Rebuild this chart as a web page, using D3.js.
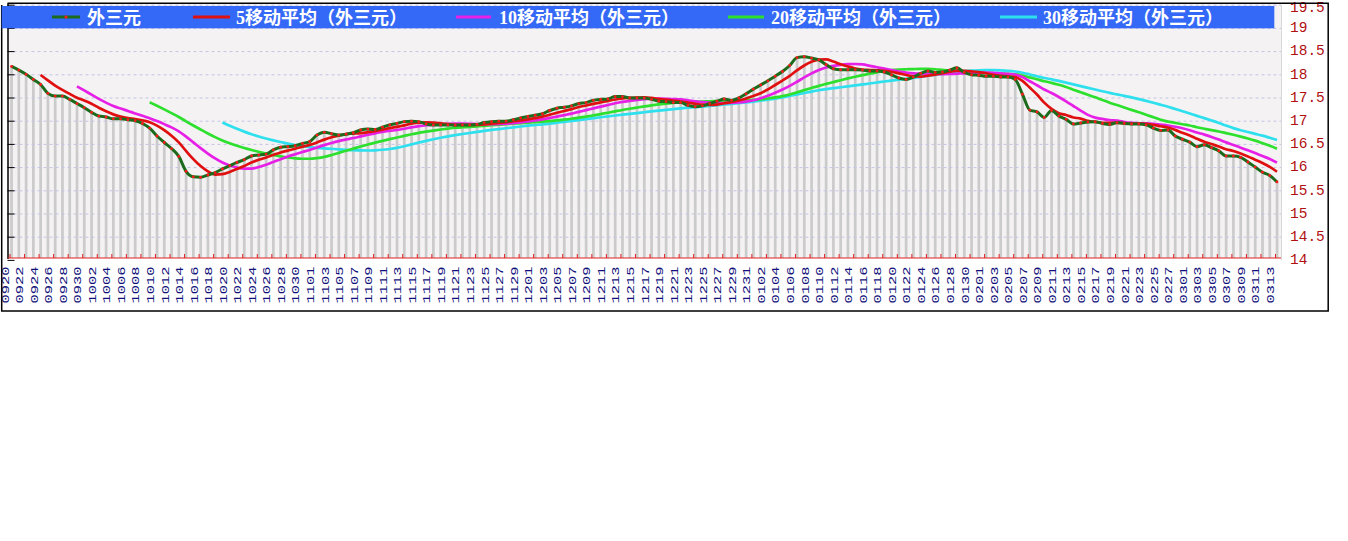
<!DOCTYPE html>
<html><head><meta charset="utf-8">
<script src="https://cdn.jsdelivr.net/npm/d3@7"></script>
<style>html,body{margin:0;padding:0;background:#fff;} svg{display:block;}</style>
</head><body>
<svg id="chart" width="1348" height="541"></svg>
<script>
// ---- data ----
const dates = [
"0920","0921","0922","0923","0924","0925","0926","0927","0928","0929","0930",
"1001","1002","1003","1004","1005","1006","1007","1008","1009","1010","1011","1012","1013","1014","1015","1016","1017","1018","1019","1020","1021","1022","1023","1024","1025","1026","1027","1028","1029","1030","1031",
"1101","1102","1103","1104","1105","1106","1107","1108","1109","1110","1111","1112","1113","1114","1115","1116","1117","1118","1119","1120","1121","1122","1123","1124","1125","1126","1127","1128","1129","1130",
"1201","1202","1203","1204","1205","1206","1207","1208","1209","1210","1211","1212","1213","1214","1215","1216","1217","1218","1219","1220","1221","1222","1223","1224","1225","1226","1227","1228","1229","1230","1231",
"0101","0102","0103","0104","0105","0106","0107","0108","0109","0110","0111","0112","0113","0114","0115","0116","0117","0118","0119","0120","0121","0122","0123","0124","0125","0126","0127","0128","0129","0130","0131",
"0201","0202","0203","0204","0205","0206","0207","0208","0209","0210","0211","0212","0213","0214","0215","0216","0217","0218","0219","0220","0221","0222","0223","0224","0225","0226","0227","0228",
"0301","0302","0303","0304","0305","0306","0307","0308","0309","0310","0311","0312","0313"];

const values = [
18.17,18.09,18.00,17.89,17.78,17.59,17.53,17.53,17.46,17.37,
17.28,17.18,17.10,17.08,17.04,17.04,17.02,17.00,16.94,16.84,
16.67,16.53,16.40,16.23,15.91,15.79,15.78,15.83,15.88,15.96,
16.03,16.10,16.16,16.24,16.26,16.28,16.37,16.43,16.44,16.46,
16.51,16.55,16.69,16.75,16.72,16.69,16.71,16.74,16.80,16.82,
16.81,16.86,16.91,16.94,16.98,16.99,16.98,16.93,16.91,16.91,
16.91,16.90,16.91,16.91,16.92,16.96,16.98,16.99,16.99,17.02,
17.06,17.09,17.12,17.15,17.22,17.27,17.29,17.32,17.37,17.39,
17.44,17.46,17.47,17.52,17.52,17.49,17.49,17.49,17.46,17.42,
17.41,17.39,17.39,17.33,17.30,17.32,17.37,17.42,17.47,17.44,
17.49,17.58,17.68,17.77,17.86,17.96,18.06,18.19,18.36,18.38,
18.35,18.31,18.21,18.12,18.10,18.10,18.10,18.09,18.07,18.07,
18.05,17.99,17.92,17.89,17.94,18.02,18.07,18.04,18.05,18.09,
18.14,18.04,17.99,17.98,17.96,17.96,17.94,17.94,17.89,17.57,
17.23,17.19,17.07,17.22,17.10,17.03,16.93,16.95,16.97,16.98,
16.94,16.92,16.96,16.94,16.93,16.93,16.91,16.84,16.79,16.80,
16.67,16.60,16.54,16.44,16.48,16.42,16.35,16.24,16.24,16.21,
16.11,16.00,15.89,15.82,15.68];

const seriesNames = ["外三元","5移动平均（外三元）","10移动平均（外三元）","20移动平均（外三元）","30移动平均（外三元）"];
const maWindows = [5, 10, 20, 30];
const yTicks = [14, 14.5, 15, 15.5, 16, 16.5, 17, 17.5, 18, 18.5, 19, 19.5];
const yTickLabels = ["14","14.5","15","15.5","16","16.5","17","17.5","18","18.5","19","19.5"];
const labelDates = dates.filter((d, i) => i % 2 === 0);

// ---- style ----
const mainColor = "#1c6a1c";
const dotColor = "#ff1a1a";
const maColors = ["#e01010", "#e620e6", "#2ee02e", "#2ee0ee"];

const svg = d3.select("#chart");
const W = 1348, H = 541;
svg.append("rect").attr("width", W).attr("height", H).attr("fill", "#ffffff");

const plot = {left: 7.5, right: 1281, top: 3.5, bottom: 258};

const x = d3.scalePoint().domain(dates).range([11.5, 1277]);
const y = d3.scaleLinear().domain([14, 19.5]).range([259.9, 4.7]);

// plot background (paper-like)
svg.append("rect").attr("x", plot.left).attr("y", plot.top)
  .attr("width", plot.right - plot.left).attr("height", plot.bottom - plot.top)
  .attr("fill", "#f4f2f2");

// bars
svg.append("g").selectAll("rect").data(values).join("rect")
  .attr("x", (d, i) => x(dates[i]) - 1.3)
  .attr("width", 2.7)
  .attr("y", d => y(d))
  .attr("height", d => plot.bottom - y(d))
  .attr("fill", "#cbcbcb");

// gridlines
const grid = svg.append("g").attr("transform", `translate(${plot.left},0)`)
  .call(d3.axisRight(y).tickValues(yTicks.filter(v => v > 14)).tickSize(plot.right - plot.left).tickFormat(""));
grid.select(".domain").remove();
grid.selectAll("line").attr("stroke", "#c4c4e6").attr("stroke-dasharray", "3,3").attr("stroke-width", 1);

// moving averages
function movingAverage(arr, n) {
  return arr.map((v, i) => i < n - 1 ? null : d3.mean(arr.slice(i - n + 1, i + 1)));
}
const lineGen = d3.line()
  .defined(d => d != null)
  .x((d, i) => x(dates[i]))
  .y(d => y(d))
  .curve(d3.curveMonotoneX);

const maSeries = maWindows.map(n => movingAverage(values, n));
for (let k = maSeries.length - 1; k >= 0; k--) {
  svg.append("path").datum(maSeries[k])
    .attr("fill", "none").attr("stroke", maColors[k]).attr("stroke-width", 2.7)
    .attr("d", lineGen);
}
// main series
svg.append("path").datum(values)
  .attr("fill", "none").attr("stroke", mainColor).attr("stroke-width", 3)
  .attr("d", lineGen);
svg.append("g").selectAll("circle").data(values).join("circle")
  .attr("cx", (d, i) => x(dates[i])).attr("cy", d => y(d)).attr("r", 1.4)
  .attr("fill", dotColor);

// left axis (ticks inward)
const la = svg.append("g").attr("transform", `translate(${plot.left},0)`)
  .call(d3.axisRight(y).tickValues(yTicks).tickSize(7).tickSizeOuter(0).tickFormat(""));
la.select(".domain").attr("stroke", "#000").attr("stroke-width", 1.5)
  .attr("d", `M0.5,${plot.top}V${plot.bottom + 1}`);
la.selectAll("line").attr("stroke", "#000");

// bottom axis (red)
svg.append("line").attr("x1", plot.left).attr("x2", plot.right)
  .attr("y1", plot.bottom).attr("y2", plot.bottom).attr("stroke", "#e02020").attr("stroke-width", 1);
const ba = svg.append("g").attr("transform", `translate(-2,${plot.bottom})`)
  .call(d3.axisBottom(x).tickValues(labelDates).tickSizeInner(-4).tickSizeOuter(0));
ba.select(".domain").remove();
ba.selectAll("line").attr("stroke", "#e02020");
ba.selectAll("text")
  .attr("transform", "rotate(-90)")
  .attr("x", -45.5).attr("y", -1.5).attr("dy", 0)
  .attr("text-anchor", "start")
  .attr("fill", "#10107a")
  .attr("font-family", "'Liberation Mono', 'DejaVu Sans Mono', monospace")
  .attr("font-size", 10.5)
  .attr("textLength", 37).attr("lengthAdjust", "spacingAndGlyphs");

// right axis labels
const ra = svg.append("g").attr("transform", `translate(${plot.right},0)`)
  .call(d3.axisRight(y).tickValues(yTicks).tickSize(0).tickPadding(9)
    .tickFormat((d, i) => yTickLabels[i]));
ra.select(".domain").attr("stroke", "#d8d8d8");
ra.selectAll("text").attr("fill", "#b01010")
  .attr("font-family", "'Liberation Mono', 'DejaVu Sans Mono', monospace")
  .attr("font-size", 14.5)
  .attr("dy", d => (y(d) < 7.5 ? (7.5 - y(d)) : 0) + "px")
  .attr("dominant-baseline", "middle");

// outer frame
svg.append("path").attr("fill", "none").attr("stroke", "#000").attr("stroke-width", 1.5)
  .attr("d", `M${plot.left},3.3H1328.2V311H1.7V5`);

// legend band
svg.append("rect").attr("x", 1.7).attr("y", 6).attr("width", 1272.6).attr("height", 22.3)
  .attr("fill", "#3468f6");
const legendItems = [
  {lx1: 52, lx2: 80, tx: 87},
  {lx1: 193, lx2: 230, tx: 236},
  {lx1: 456, lx2: 491, tx: 499},
  {lx1: 728, lx2: 764, tx: 771},
  {lx1: 1000, lx2: 1037, tx: 1043}
];
const legendColors = [mainColor].concat(maColors);
legendItems.forEach((it, k) => {
  svg.append("line").attr("x1", it.lx1).attr("x2", it.lx2).attr("y1", 17).attr("y2", 17)
    .attr("stroke", legendColors[k]).attr("stroke-width", 3);
  if (k === 0) {
    svg.append("circle").attr("cx", (it.lx1 + it.lx2) / 2).attr("cy", 17).attr("r", 1.6).attr("fill", dotColor);
  }
  svg.append("text").attr("x", it.tx).attr("y", 24)
    .attr("fill", "#ffffff")
    .attr("font-family", "'Liberation Serif', 'Noto Sans CJK SC', serif")
    .attr("font-size", 18)
    .attr("font-weight", "bold")
    .text(seriesNames[k]);
});
</script>
</body></html>
